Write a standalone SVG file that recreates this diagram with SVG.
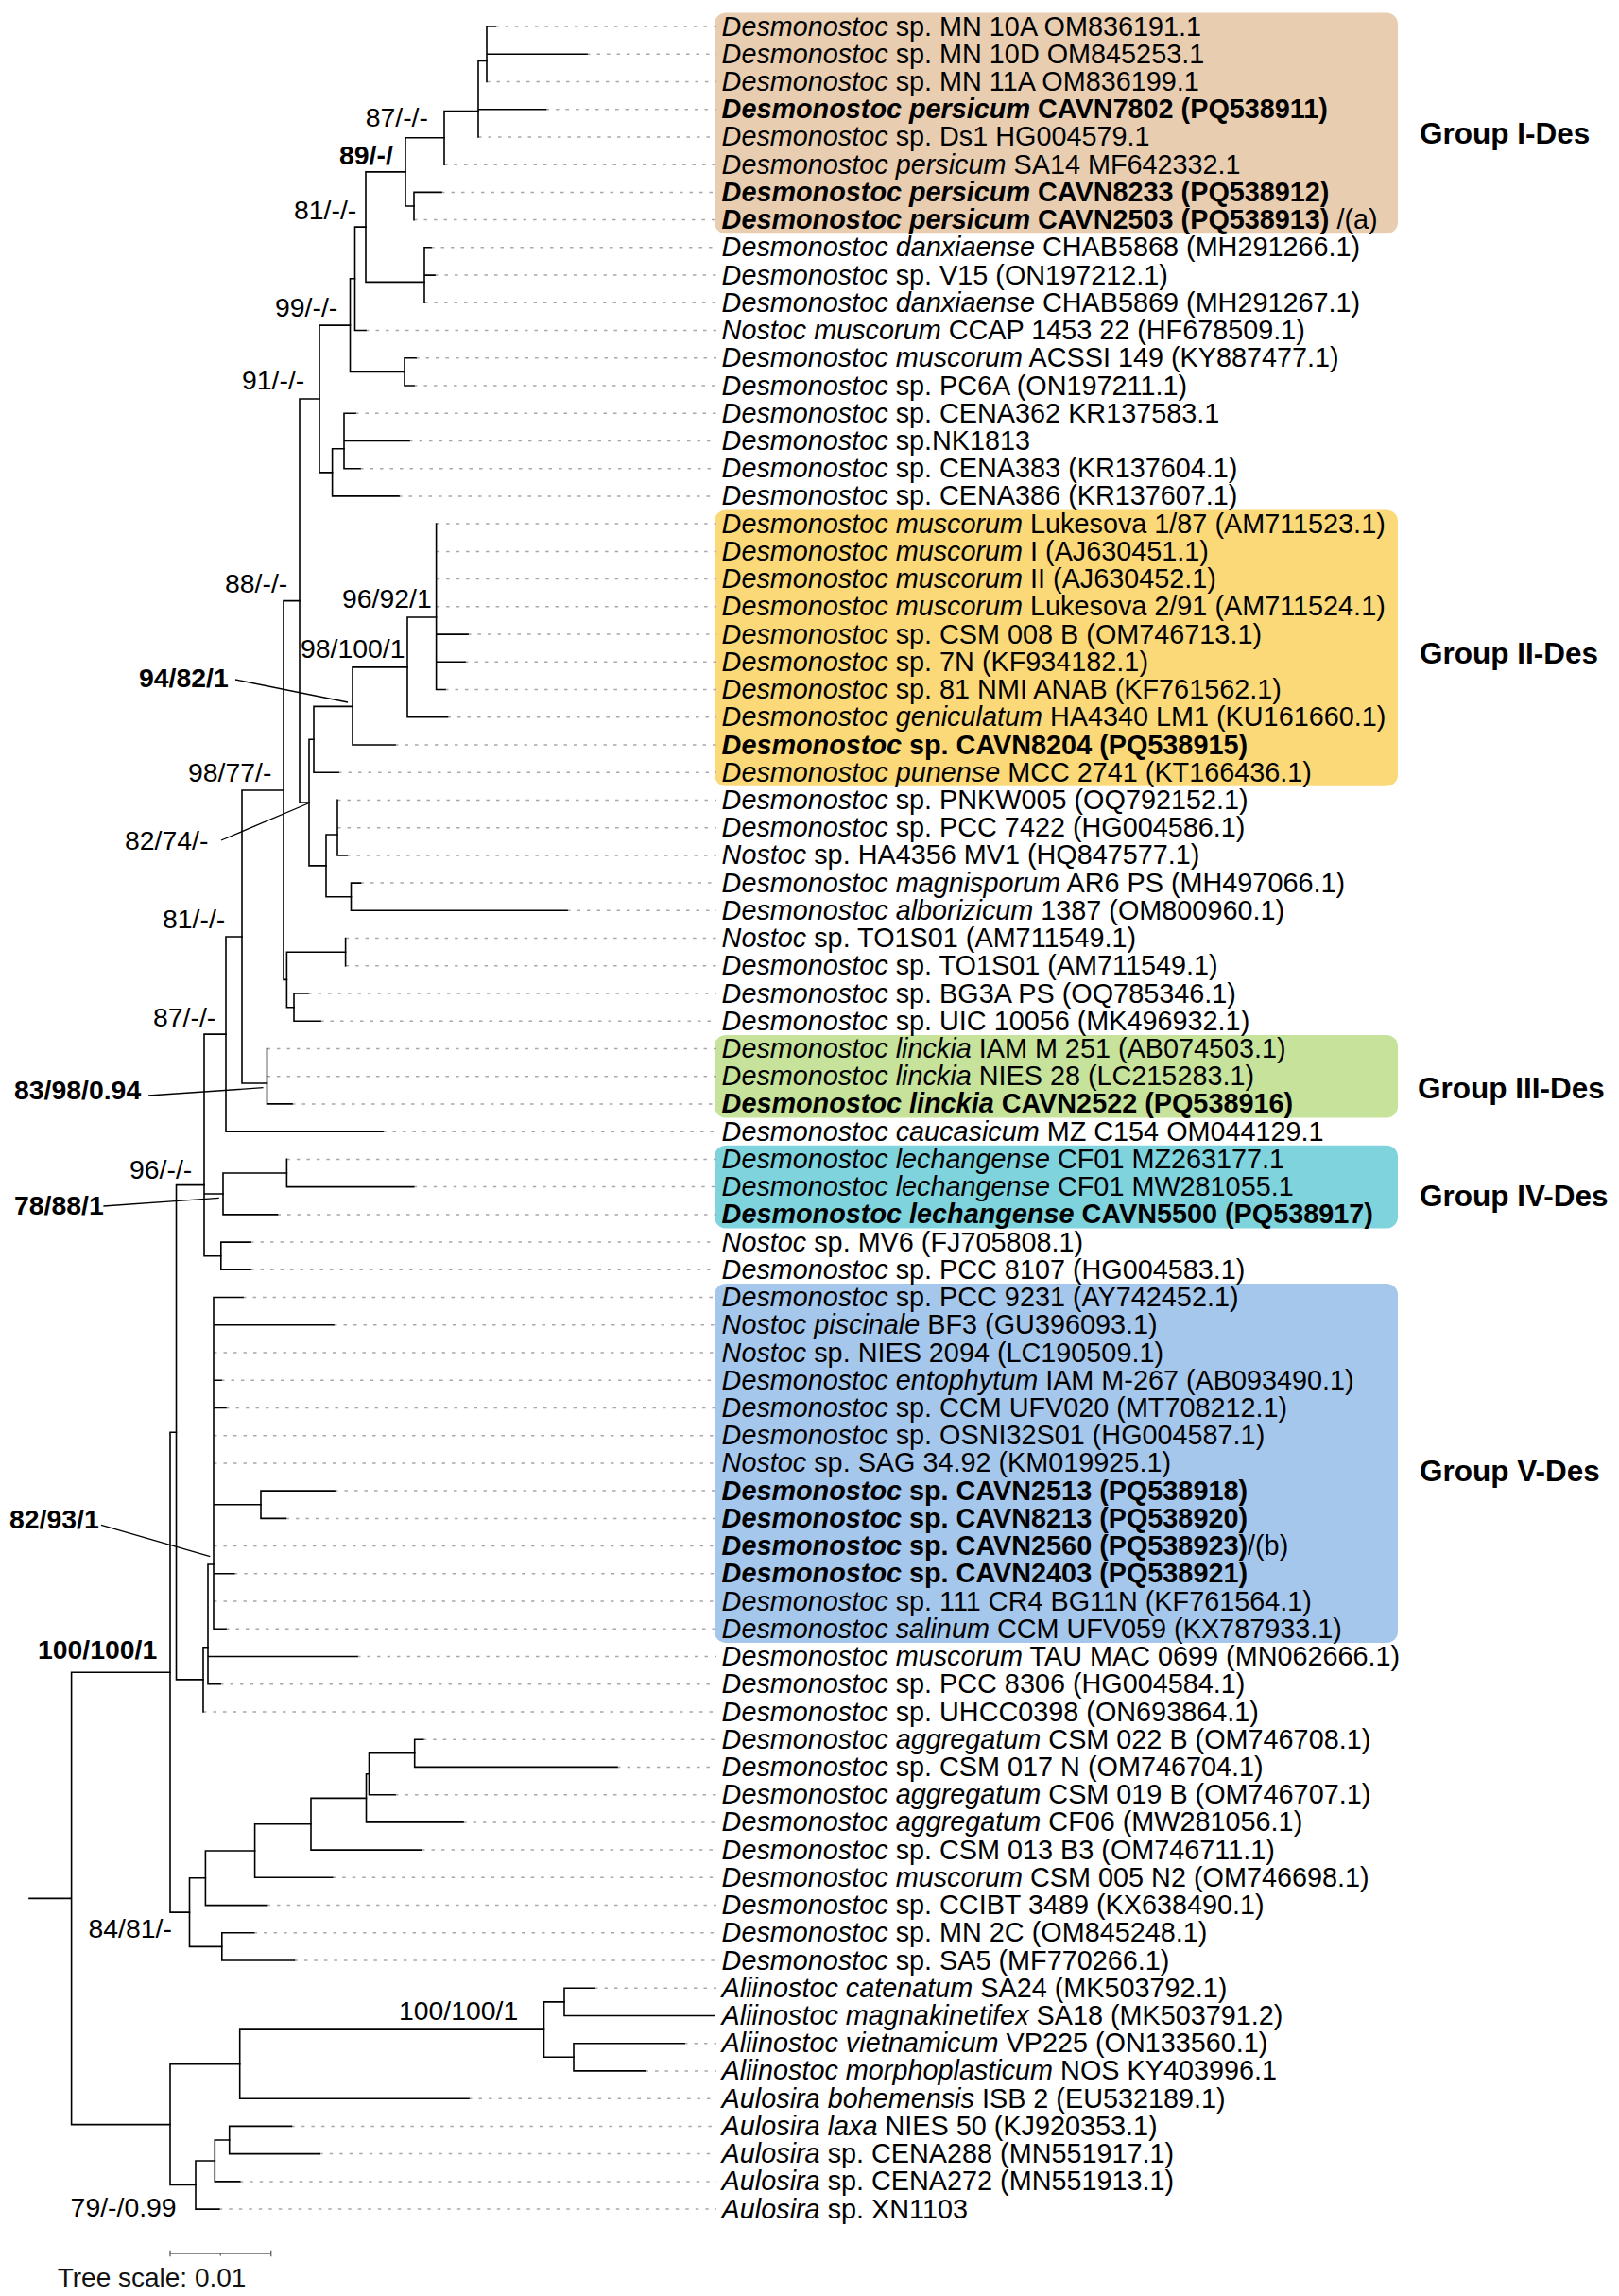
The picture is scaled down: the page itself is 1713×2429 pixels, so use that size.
<svg xmlns="http://www.w3.org/2000/svg" width="1713" height="2429" viewBox="0 0 1713 2429">
<style>
.t{font-family:"Liberation Sans",Arial,sans-serif;font-size:28.8px;fill:#000}
.s{font-family:"Liberation Sans",Arial,sans-serif;font-size:28.4px;fill:#000}
.i{font-style:italic}
.b{font-weight:bold}
.g{font-family:"Liberation Sans",Arial,sans-serif;font-size:31.5px;font-weight:bold;fill:#000}
.br{fill:none;stroke:#000;stroke-width:1.6;stroke-linecap:square}
.dot{fill:none;stroke:#a8a8a8;stroke-width:1.5;stroke-dasharray:3.5 7}
.ld{fill:none;stroke:#000;stroke-width:1.3}
.sc{fill:none;stroke:#666;stroke-width:1.4}
</style>
<rect width="1713" height="2429" fill="#fff"/>
<g id="group-boxes">
<rect id="box-I" x="756" y="13.4" width="723" height="233.8" rx="12" fill="#E9CDB0"/>
<rect id="box-II" x="756" y="539.5" width="723" height="292.3" rx="12" fill="#FCD978"/>
<rect id="box-III" x="756" y="1094.9" width="723" height="87.6" rx="12" fill="#C6E29B"/>
<rect id="box-IV" x="756" y="1211.8" width="723" height="87.7" rx="12" fill="#7ED3DC"/>
<rect id="box-V" x="756" y="1357.9" width="723" height="380" rx="12" fill="#A6C7EC"/>
</g>
<g id="connectors">
<path class="dot" d="M524,28H758M621,57.2H758M515,86.5H758M577.5,115.7H758M506,144.9H758M470,174.2H758M467,203.4H758M438,232.6H758M456,261.8H758M460,291.1H758M449,320.3H758M387,349.5H758M440,378.8H758M438,408H758M376,437.2H758M433,466.5H758M381,495.7H758M422,524.9H758M461.6,554.1H758M461.6,583.4H758M461.6,612.6H758M461.6,641.8H758M495,671.1H758M492,700.3H758M471,729.5H758M473.5,758.7H758M418,788H758M358,817.2H758M357,846.4H758M357,875.7H758M367,904.9H758M381.5,934.1H758M600,963.3H758M365.6,992.6H758M365.6,1021.8H758M326,1051H758M339,1080.3H758M282.5,1109.5H758M282.5,1138.7H758M309,1167.9H758M405,1197.2H758M303.4,1226.4H758M437.7,1255.6H758M293.5,1284.9H758M265,1314.1H758M265,1343.3H758M257,1372.5H758M353,1401.8H758M226,1431H758M234,1460.2H758M239,1489.5H758M226,1518.7H758M226,1547.9H758M354,1577.1H758M302.4,1606.4H758M226,1635.6H758M247.7,1664.8H758M226,1694.1H758M239,1723.3H758M378,1752.5H758M233,1781.7H758M215,1811H758M447.7,1840.2H758M653,1869.4H758M418,1898.7H758M490,1927.9H758M446,1957.1H758M351.7,1986.3H758M282.5,2015.6H758M268.6,2044.8H758M311.4,2074H758M629,2103.3H758M724,2161.7H758M682.5,2190.9H758M496,2220.2H758M308.4,2249.4H758M338.2,2278.6H758M253.7,2307.9H758M231.8,2337.1H758"/>
<path class="br" d="M515,28V86.5M515,28H524M515,57.2H621"/>
<path class="br" d="M506,64.5V144.9M506,64.5H515M506,115.7H577.5"/>
<path class="br" d="M470,117.5V174.2M470,117.5H506"/>
<path class="br" d="M438,203.4V232.6M438,203.4H467"/>
<path class="br" d="M429,145.8V218M429,145.8H470M429,218H438"/>
<path class="br" d="M449,261.8V320.3M449,261.8H456M449,291.1H460"/>
<path class="br" d="M387,181.9V298.4M387,181.9H429M387,298.4H449"/>
<path class="br" d="M375.5,240.1V349.5M375.5,240.1H387M375.5,349.5H387"/>
<path class="br" d="M428,378.8V408M428,378.8H440M428,408H438"/>
<path class="br" d="M370.5,294.8V393.4M370.5,294.8H375.5M370.5,393.4H428"/>
<path class="br" d="M364,437.2V495.7M364,437.2H376M364,466.5H433M364,495.7H381"/>
<path class="br" d="M351.6,474.8V524.9M351.6,474.8H364M351.6,524.9H422"/>
<path class="br" d="M338,344.1V499.9M338,344.1H370.5M338,499.9H351.6"/>
<path class="br" d="M461.6,554.1V729.5M461.6,671.1H495M461.6,700.3H492M461.6,729.5H471"/>
<path class="br" d="M431,653V758.7M431,653H461.6M431,758.7H473.5"/>
<path class="br" d="M373,705.9V788M373,705.9H431M373,788H418"/>
<path class="br" d="M332,747.4V817.2M332,747.4H373M332,817.2H358"/>
<path class="br" d="M357,846.4V904.9M357,904.9H367"/>
<path class="br" d="M371.5,934.1V963.3M371.5,934.1H381.5M371.5,963.3H600"/>
<path class="br" d="M345,883V948.7M345,883H357M345,948.7H371.5"/>
<path class="br" d="M327,782.3V915.9M327,782.3H332M327,915.9H345"/>
<path class="br" d="M317,422V849.1M317,422H338M317,849.1H327"/>
<path class="br" d="M365.6,992.6V1021.8"/>
<path class="br" d="M311,1051V1080.3M311,1051H326M311,1080.3H339"/>
<path class="br" d="M303.4,1007.2V1065.7M303.4,1007.2H365.6M303.4,1065.7H311"/>
<path class="br" d="M300,635.6V1036.4M300,635.6H317M300,1036.4H303.4"/>
<path class="br" d="M282.5,1109.5V1167.9M282.5,1167.9H309"/>
<path class="br" d="M256,836V1146M256,836H300M256,1146H282.5"/>
<path class="br" d="M239,991V1197.2M239,991H256M239,1197.2H405"/>
<path class="br" d="M303.4,1226.4V1255.6M303.4,1255.6H437.7"/>
<path class="br" d="M236,1241V1284.9M236,1241H303.4M236,1284.9H293.5"/>
<path class="br" d="M233.8,1314.1V1343.3M233.8,1314.1H265M233.8,1343.3H265"/>
<path class="br" d="M216,1094.1V1328.7M216,1094.1H239M216,1263H236M216,1328.7H233.8"/>
<path class="br" d="M276,1577.1V1606.4M276,1577.1H354M276,1606.4H302.4"/>
<path class="br" d="M226,1372.5V1723.3M226,1372.5H257M226,1401.8H353M226,1460.2H234M226,1489.5H239M226,1591.8H276M226,1664.8H247.7M226,1723.3H239"/>
<path class="br" d="M220,1655V1781.7M220,1655H226M220,1752.5H378M220,1781.7H233"/>
<path class="br" d="M215,1742.7V1811M215,1742.7H220"/>
<path class="br" d="M186.5,1253.6V1776.9M186.5,1253.6H216M186.5,1776.9H215"/>
<path class="br" d="M438.7,1840.2V1869.4M438.7,1840.2H447.7M438.7,1869.4H653"/>
<path class="br" d="M390.5,1854.8V1898.7M390.5,1854.8H438.7M390.5,1898.7H418"/>
<path class="br" d="M387.5,1876.8V1927.9M387.5,1876.8H390.5M387.5,1927.9H490"/>
<path class="br" d="M329,1902.4V1957.1M329,1902.4H387.5M329,1957.1H446"/>
<path class="br" d="M269.6,1929.8V1986.3M269.6,1929.8H329M269.6,1986.3H351.7"/>
<path class="br" d="M217.4,1958V2015.6M217.4,1958H269.6M217.4,2015.6H282.5"/>
<path class="br" d="M234.8,2044.8V2074M234.8,2044.8H268.6M234.8,2074H311.4"/>
<path class="br" d="M200.5,1986.8V2059.4M200.5,1986.8H217.4M200.5,2059.4H234.8"/>
<path class="br" d="M180,1515.3V2023.1M180,1515.3H186.5M180,2023.1H200.5"/>
<path class="br" d="M597,2103.3V2132.5M597,2103.3H629M597,2132.5H756"/>
<path class="br" d="M607,2161.7V2190.9M607,2161.7H724M607,2190.9H682.5"/>
<path class="br" d="M575.5,2117.9V2176.3M575.5,2117.9H597M575.5,2176.3H607"/>
<path class="br" d="M253.7,2147.1V2220.2M253.7,2147.1H575.5M253.7,2220.2H496"/>
<path class="br" d="M242.7,2249.4V2278.6M242.7,2249.4H308.4M242.7,2278.6H338.2"/>
<path class="br" d="M227.3,2264V2307.9M227.3,2264H242.7M227.3,2307.9H253.7"/>
<path class="br" d="M207,2286V2337.1M207,2286H227.3M207,2337.1H231.8"/>
<path class="br" d="M180,2183.7V2311.5M180,2183.7H253.7M180,2311.5H207"/>
<path class="br" d="M75.6,1769.2V2247.6M75.6,1769.2H180M75.6,2247.6H180M31,2008.4H75.6"/>
<path class="ld" d="M249,719L368,743M234,889L326,850M157,1159L278.5,1150.7M109.4,1276L231.8,1267.3M107,1613.3L222.3,1646.7"/>
</g>
<g id="labels">
<g id="leaf-1"><text class="t" x="763.6" y="37.5"><tspan class="i">Desmonostoc</tspan> sp. MN 10A OM836191.1</text></g>
<g id="leaf-2"><text class="t" x="763.6" y="66.7"><tspan class="i">Desmonostoc</tspan> sp. MN 10D OM845253.1</text></g>
<g id="leaf-3"><text class="t" x="763.6" y="96"><tspan class="i">Desmonostoc</tspan> sp. MN 11A OM836199.1</text></g>
<g id="leaf-4"><text class="t b" x="763.6" y="125.2"><tspan class="i">Desmonostoc persicum</tspan> CAVN7802 (PQ538911)</text></g>
<g id="leaf-5"><text class="t" x="763.6" y="154.4"><tspan class="i">Desmonostoc</tspan> sp. Ds1 HG004579.1</text></g>
<g id="leaf-6"><text class="t" x="763.6" y="183.7"><tspan class="i">Desmonostoc persicum</tspan> SA14 MF642332.1</text></g>
<g id="leaf-7"><text class="t b" x="763.6" y="212.9"><tspan class="i">Desmonostoc persicum</tspan> CAVN8233 (PQ538912)</text></g>
<g id="leaf-8"><text class="t" x="763.6" y="242.1"><tspan class="b"><tspan class="i">Desmonostoc persicum</tspan> CAVN2503 (PQ538913)</tspan> /(a)</text></g>
<g id="leaf-9"><text class="t" x="763.6" y="271.3"><tspan class="i">Desmonostoc danxiaense</tspan> CHAB5868 (MH291266.1)</text></g>
<g id="leaf-10"><text class="t" x="763.6" y="300.6"><tspan class="i">Desmonostoc</tspan> sp. V15 (ON197212.1)</text></g>
<g id="leaf-11"><text class="t" x="763.6" y="329.8"><tspan class="i">Desmonostoc danxiaense</tspan> CHAB5869 (MH291267.1)</text></g>
<g id="leaf-12"><text class="t" x="763.6" y="359"><tspan class="i">Nostoc muscorum</tspan> CCAP 1453 22 (HF678509.1)</text></g>
<g id="leaf-13"><text class="t" x="763.6" y="388.3"><tspan class="i">Desmonostoc muscorum</tspan> ACSSI 149 (KY887477.1)</text></g>
<g id="leaf-14"><text class="t" x="763.6" y="417.5"><tspan class="i">Desmonostoc</tspan> sp. PC6A (ON197211.1)</text></g>
<g id="leaf-15"><text class="t" x="763.6" y="446.7"><tspan class="i">Desmonostoc</tspan> sp. CENA362 KR137583.1</text></g>
<g id="leaf-16"><text class="t" x="763.6" y="476"><tspan class="i">Desmonostoc</tspan> sp.NK1813</text></g>
<g id="leaf-17"><text class="t" x="763.6" y="505.2"><tspan class="i">Desmonostoc</tspan> sp. CENA383 (KR137604.1)</text></g>
<g id="leaf-18"><text class="t" x="763.6" y="534.4"><tspan class="i">Desmonostoc</tspan> sp. CENA386 (KR137607.1)</text></g>
<g id="leaf-19"><text class="t" x="763.6" y="563.6"><tspan class="i">Desmonostoc muscorum</tspan> Lukesova 1/87 (AM711523.1)</text></g>
<g id="leaf-20"><text class="t" x="763.6" y="592.9"><tspan class="i">Desmonostoc muscorum</tspan> I (AJ630451.1)</text></g>
<g id="leaf-21"><text class="t" x="763.6" y="622.1"><tspan class="i">Desmonostoc muscorum</tspan> II (AJ630452.1)</text></g>
<g id="leaf-22"><text class="t" x="763.6" y="651.3"><tspan class="i">Desmonostoc muscorum</tspan> Lukesova 2/91 (AM711524.1)</text></g>
<g id="leaf-23"><text class="t" x="763.6" y="680.6"><tspan class="i">Desmonostoc</tspan> sp. CSM 008 B (OM746713.1)</text></g>
<g id="leaf-24"><text class="t" x="763.6" y="709.8"><tspan class="i">Desmonostoc</tspan> sp. 7N (KF934182.1)</text></g>
<g id="leaf-25"><text class="t" x="763.6" y="739"><tspan class="i">Desmonostoc</tspan> sp. 81 NMI ANAB (KF761562.1)</text></g>
<g id="leaf-26"><text class="t" x="763.6" y="768.2"><tspan class="i">Desmonostoc geniculatum</tspan> HA4340 LM1 (KU161660.1)</text></g>
<g id="leaf-27"><text class="t b" x="763.6" y="797.5"><tspan class="i">Desmonostoc</tspan> sp. CAVN8204 (PQ538915)</text></g>
<g id="leaf-28"><text class="t" x="763.6" y="826.7"><tspan class="i">Desmonostoc punense</tspan> MCC 2741 (KT166436.1)</text></g>
<g id="leaf-29"><text class="t" x="763.6" y="855.9"><tspan class="i">Desmonostoc</tspan> sp. PNKW005 (OQ792152.1)</text></g>
<g id="leaf-30"><text class="t" x="763.6" y="885.2"><tspan class="i">Desmonostoc</tspan> sp. PCC 7422 (HG004586.1)</text></g>
<g id="leaf-31"><text class="t" x="763.6" y="914.4"><tspan class="i">Nostoc</tspan> sp. HA4356 MV1 (HQ847577.1)</text></g>
<g id="leaf-32"><text class="t" x="763.6" y="943.6"><tspan class="i">Desmonostoc magnisporum</tspan> AR6 PS (MH497066.1)</text></g>
<g id="leaf-33"><text class="t" x="763.6" y="972.8"><tspan class="i">Desmonostoc alborizicum</tspan> 1387 (OM800960.1)</text></g>
<g id="leaf-34"><text class="t" x="763.6" y="1002.1"><tspan class="i">Nostoc</tspan> sp. TO1S01 (AM711549.1)</text></g>
<g id="leaf-35"><text class="t" x="763.6" y="1031.3"><tspan class="i">Desmonostoc</tspan> sp. TO1S01 (AM711549.1)</text></g>
<g id="leaf-36"><text class="t" x="763.6" y="1060.5"><tspan class="i">Desmonostoc</tspan> sp. BG3A PS (OQ785346.1)</text></g>
<g id="leaf-37"><text class="t" x="763.6" y="1089.8"><tspan class="i">Desmonostoc</tspan> sp. UIC 10056 (MK496932.1)</text></g>
<g id="leaf-38"><text class="t" x="763.6" y="1119"><tspan class="i">Desmonostoc linckia</tspan> IAM M 251 (AB074503.1)</text></g>
<g id="leaf-39"><text class="t" x="763.6" y="1148.2"><tspan class="i">Desmonostoc linckia</tspan> NIES 28 (LC215283.1)</text></g>
<g id="leaf-40"><text class="t b" x="763.6" y="1177.4"><tspan class="i">Desmonostoc linckia</tspan> CAVN2522 (PQ538916)</text></g>
<g id="leaf-41"><text class="t" x="763.6" y="1206.7"><tspan class="i">Desmonostoc caucasicum</tspan> MZ C154 OM044129.1</text></g>
<g id="leaf-42"><text class="t" x="763.6" y="1235.9"><tspan class="i">Desmonostoc lechangense</tspan> CF01 MZ263177.1</text></g>
<g id="leaf-43"><text class="t" x="763.6" y="1265.1"><tspan class="i">Desmonostoc lechangense</tspan> CF01 MW281055.1</text></g>
<g id="leaf-44"><text class="t b" x="763.6" y="1294.4"><tspan class="i">Desmonostoc lechangense</tspan> CAVN5500 (PQ538917)</text></g>
<g id="leaf-45"><text class="t" x="763.6" y="1323.6"><tspan class="i">Nostoc</tspan> sp. MV6 (FJ705808.1)</text></g>
<g id="leaf-46"><text class="t" x="763.6" y="1352.8"><tspan class="i">Desmonostoc</tspan> sp. PCC 8107 (HG004583.1)</text></g>
<g id="leaf-47"><text class="t" x="763.6" y="1382"><tspan class="i">Desmonostoc</tspan> sp. PCC 9231 (AY742452.1)</text></g>
<g id="leaf-48"><text class="t" x="763.6" y="1411.3"><tspan class="i">Nostoc piscinale</tspan> BF3 (GU396093.1)</text></g>
<g id="leaf-49"><text class="t" x="763.6" y="1440.5"><tspan class="i">Nostoc</tspan> sp. NIES 2094 (LC190509.1)</text></g>
<g id="leaf-50"><text class="t" x="763.6" y="1469.7"><tspan class="i">Desmonostoc entophytum</tspan> IAM M-267 (AB093490.1)</text></g>
<g id="leaf-51"><text class="t" x="763.6" y="1499"><tspan class="i">Desmonostoc</tspan> sp. CCM UFV020 (MT708212.1)</text></g>
<g id="leaf-52"><text class="t" x="763.6" y="1528.2"><tspan class="i">Desmonostoc</tspan> sp. OSNI32S01 (HG004587.1)</text></g>
<g id="leaf-53"><text class="t" x="763.6" y="1557.4"><tspan class="i">Nostoc</tspan> sp. SAG 34.92 (KM019925.1)</text></g>
<g id="leaf-54"><text class="t b" x="763.6" y="1586.6"><tspan class="i">Desmonostoc</tspan> sp. CAVN2513 (PQ538918)</text></g>
<g id="leaf-55"><text class="t b" x="763.6" y="1615.9"><tspan class="i">Desmonostoc</tspan> sp. CAVN8213 (PQ538920)</text></g>
<g id="leaf-56"><text class="t" x="763.6" y="1645.1"><tspan class="b"><tspan class="i">Desmonostoc</tspan> sp. CAVN2560 (PQ538923)</tspan>/(b)</text></g>
<g id="leaf-57"><text class="t b" x="763.6" y="1674.3"><tspan class="i">Desmonostoc</tspan> sp. CAVN2403 (PQ538921)</text></g>
<g id="leaf-58"><text class="t" x="763.6" y="1703.6"><tspan class="i">Desmonostoc</tspan> sp. 111 CR4 BG11N (KF761564.1)</text></g>
<g id="leaf-59"><text class="t" x="763.6" y="1732.8"><tspan class="i">Desmonostoc salinum</tspan> CCM UFV059 (KX787933.1)</text></g>
<g id="leaf-60"><text class="t" x="763.6" y="1762"><tspan class="i">Desmonostoc muscorum</tspan> TAU MAC 0699 (MN062666.1)</text></g>
<g id="leaf-61"><text class="t" x="763.6" y="1791.2"><tspan class="i">Desmonostoc</tspan> sp. PCC 8306 (HG004584.1)</text></g>
<g id="leaf-62"><text class="t" x="763.6" y="1820.5"><tspan class="i">Desmonostoc</tspan> sp. UHCC0398 (ON693864.1)</text></g>
<g id="leaf-63"><text class="t" x="763.6" y="1849.7"><tspan class="i">Desmonostoc aggregatum</tspan> CSM 022 B (OM746708.1)</text></g>
<g id="leaf-64"><text class="t" x="763.6" y="1878.9"><tspan class="i">Desmonostoc</tspan> sp. CSM 017 N (OM746704.1)</text></g>
<g id="leaf-65"><text class="t" x="763.6" y="1908.2"><tspan class="i">Desmonostoc aggregatum</tspan> CSM 019 B (OM746707.1)</text></g>
<g id="leaf-66"><text class="t" x="763.6" y="1937.4"><tspan class="i">Desmonostoc aggregatum</tspan> CF06 (MW281056.1)</text></g>
<g id="leaf-67"><text class="t" x="763.6" y="1966.6"><tspan class="i">Desmonostoc</tspan> sp. CSM 013 B3 (OM746711.1)</text></g>
<g id="leaf-68"><text class="t" x="763.6" y="1995.8"><tspan class="i">Desmonostoc muscorum</tspan> CSM 005 N2 (OM746698.1)</text></g>
<g id="leaf-69"><text class="t" x="763.6" y="2025.1"><tspan class="i">Desmonostoc</tspan> sp. CCIBT 3489 (KX638490.1)</text></g>
<g id="leaf-70"><text class="t" x="763.6" y="2054.3"><tspan class="i">Desmonostoc</tspan> sp. MN 2C (OM845248.1)</text></g>
<g id="leaf-71"><text class="t" x="763.6" y="2083.5"><tspan class="i">Desmonostoc</tspan> sp. SA5 (MF770266.1)</text></g>
<g id="leaf-72"><text class="t" x="763.6" y="2112.8"><tspan class="i">Aliinostoc catenatum</tspan> SA24 (MK503792.1)</text></g>
<g id="leaf-73"><text class="t" x="763.6" y="2142"><tspan class="i">Aliinostoc magnakinetifex</tspan> SA18 (MK503791.2)</text></g>
<g id="leaf-74"><text class="t" x="763.6" y="2171.2"><tspan class="i">Aliinostoc vietnamicum</tspan> VP225 (ON133560.1)</text></g>
<g id="leaf-75"><text class="t" x="763.6" y="2200.4"><tspan class="i">Aliinostoc morphoplasticum</tspan> NOS KY403996.1</text></g>
<g id="leaf-76"><text class="t" x="763.6" y="2229.7"><tspan class="i">Aulosira bohemensis</tspan> ISB 2 (EU532189.1)</text></g>
<g id="leaf-77"><text class="t" x="763.6" y="2258.9"><tspan class="i">Aulosira laxa</tspan> NIES 50 (KJ920353.1)</text></g>
<g id="leaf-78"><text class="t" x="763.6" y="2288.1"><tspan class="i">Aulosira</tspan> sp. CENA288 (MN551917.1)</text></g>
<g id="leaf-79"><text class="t" x="763.6" y="2317.4"><tspan class="i">Aulosira</tspan> sp. CENA272 (MN551913.1)</text></g>
<g id="leaf-80"><text class="t" x="763.6" y="2346.6"><tspan class="i">Aulosira</tspan> sp. XN1103</text></g>
</g>
<g id="support-values">
<text class="s" x="386.7" y="134">87/-/-</text>
<text class="s b" x="359" y="174">89/-/</text>
<text class="s" x="311" y="232">81/-/-</text>
<text class="s" x="291" y="335">99/-/-</text>
<text class="s" x="256" y="412">91/-/-</text>
<text class="s" x="238" y="627">88/-/-</text>
<text class="s" x="362" y="643">96/92/1</text>
<text class="s" x="318" y="696">98/100/1</text>
<text class="s b" x="147" y="727">94/82/1</text>
<text class="s" x="199" y="827">98/77/-</text>
<text class="s" x="132" y="899">82/74/-</text>
<text class="s" x="172" y="982">81/-/-</text>
<text class="s" x="162" y="1086">87/-/-</text>
<text class="s b" x="15" y="1163">83/98/0.94</text>
<text class="s" x="137" y="1247">96/-/-</text>
<text class="s b" x="15" y="1285">78/88/1</text>
<text class="s b" x="10" y="1617">82/93/1</text>
<text class="s b" x="40" y="1755">100/100/1</text>
<text class="s" x="93.5" y="2050">84/81/-</text>
<text class="s" x="422" y="2137">100/100/1</text>
<text class="s" x="74.6" y="2345">79/-/0.99</text>
</g>
<g id="group-labels">
<text id="label-I" class="g" x="1502" y="152">Group I-Des</text>
<text id="label-II" class="g" x="1502" y="702">Group II-Des</text>
<text id="label-III" class="g" x="1500" y="1162">Group III-Des</text>
<text id="label-IV" class="g" x="1502" y="1276">Group IV-Des</text>
<text id="label-V" class="g" x="1502" y="1567">Group V-Des</text>
</g>
<g id="scale-bar">
<path class="sc" d="M180,2384H286.7M180,2380.7V2387.3M286.7,2380.7V2387.3M233.3,2384V2386.5"/>
<text x="60.7" y="2419" style="font-family:'Liberation Sans',Arial,sans-serif;font-size:28px;fill:#111">Tree scale: 0.01</text>
</g>
</svg>
